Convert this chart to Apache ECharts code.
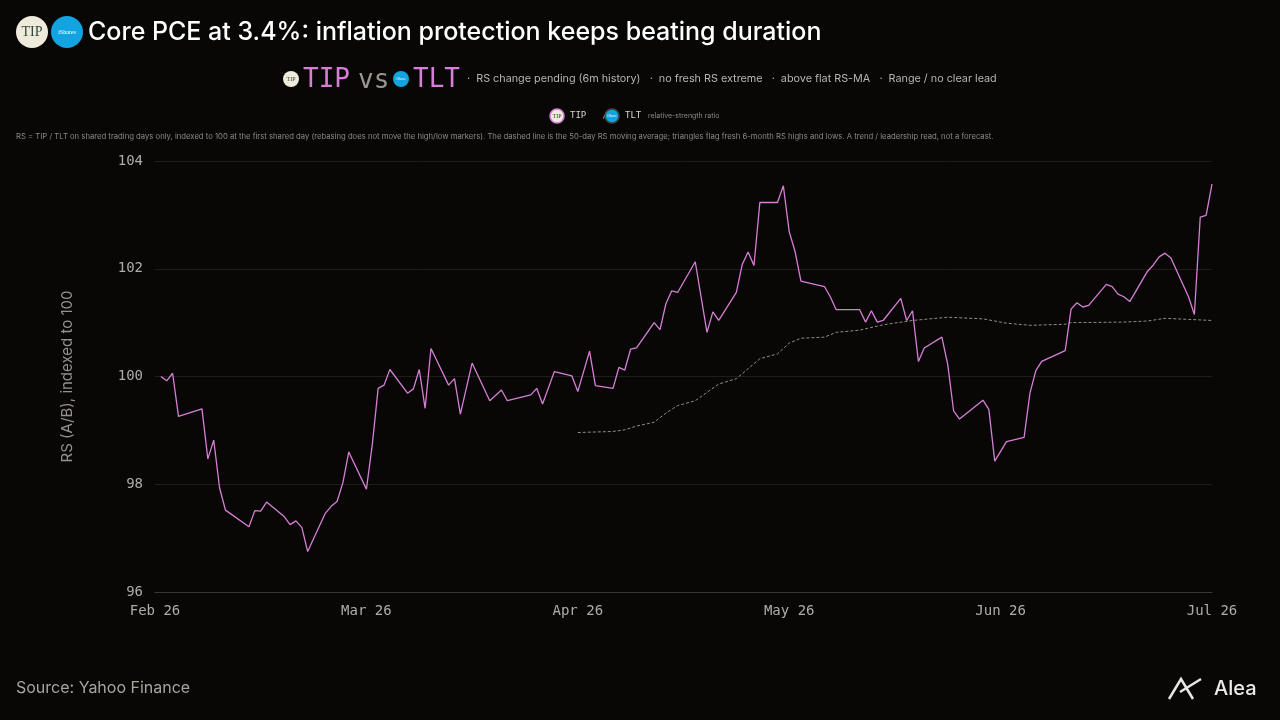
<!DOCTYPE html>
<html>
<head>
<meta charset="utf-8">
<script src="https://cdn.jsdelivr.net/npm/echarts@6/dist/echarts.min.js"></script>
<style>
  html, body { margin: 0; padding: 0; background: #080706; }
  #chart { width: 1280px; height: 720px; }
</style>
</head>
<body>
<div id="chart"></div>
<script>
// month labels, each month spans 36 slots on the x axis
const monthLabels = ["Feb 26", "Mar 26", "Apr 26", "May 26", "Jun 26", "Jul 26"];
const slotsPerMonth = 36;

// RS ratio (TIP / TLT), slot index + value
const rsIdx = [1,2,3,4,8,9,10,11,12,16,17,18,19,22,23,24,25,26,29,30,31,32,33,36,37,38,39,40,43,44,45,46,47,50,51,52,54,57,59,60,64,65,66,68,71,72,74,75,78,79,80,81,82,85,86,87,88,89,92,94,95,96,99,100,101,102,103,106,107,108,109,110,114,115,116,120,121,122,123,124,127,128,129,130,131,134,135,136,137,141,142,143,145,148,149,150,151,155,156,157,158,159,162,163,164,165,166,169,170,171,172,173,176,177,178,179,180];
const rsVal = [100.0,99.92,100.06,99.26,99.40,98.47,98.82,97.93,97.52,97.21,97.51,97.50,97.67,97.40,97.25,97.32,97.20,96.75,97.46,97.59,97.68,98.03,98.60,97.91,98.73,99.78,99.84,100.13,99.69,99.77,100.13,99.41,100.52,99.84,99.96,99.30,100.25,99.55,99.75,99.55,99.66,99.78,99.49,100.09,100.01,99.72,100.47,99.83,99.78,100.17,100.12,100.51,100.53,101.00,100.87,101.35,101.59,101.56,102.13,100.82,101.20,101.04,101.56,102.08,102.31,102.06,103.23,103.23,103.54,102.69,102.32,101.77,101.67,101.48,101.24,101.24,101.01,101.22,101.01,101.04,101.45,101.04,101.22,100.28,100.53,100.73,100.22,99.36,99.21,99.56,99.39,98.43,98.79,98.87,99.69,100.11,100.28,100.48,101.25,101.37,101.29,101.32,101.71,101.67,101.53,101.48,101.39,101.95,102.07,102.22,102.29,102.20,101.48,101.15,102.96,102.99,103.57];

// 50-day RS moving average
const maIdx = [72,78,80,82,85,87,89,92,96,99,103,106,108,110,114,116,120,124,129,135,141,145,149,155,156,165,169,172,176,180];
const maVal = [98.96,98.98,99.01,99.08,99.15,99.32,99.46,99.55,99.86,99.96,100.33,100.42,100.62,100.71,100.73,100.82,100.86,100.96,101.04,101.10,101.07,100.99,100.95,100.97,101.0,101.01,101.03,101.08,101.06,101.04];

const yTicks = [96, 98, 100, 102, 104];

const slotCount = (monthLabels.length - 1) * slotsPerMonth + 1;
const categories = [];
for (let i = 0; i < slotCount; i++) categories.push(String(i));

const pink = "#d67fd6";
const mono = "'DejaVu Sans Mono', monospace";
const sans = "Inter, 'Noto Sans', sans-serif";

const chart = echarts.init(document.getElementById("chart"));

function logo(x, y, r, fill, txt, txtColor, stroke, scale) {
  return [
    { type: "circle", shape: { cx: x, cy: y, r: r },
      style: { fill: fill, stroke: stroke || null, lineWidth: stroke ? 1.5 : 0 } },
    { type: "text", x: x, y: y,
      style: { text: txt, fill: txtColor, font: Math.max(3, Math.round(r * scale)) + "px serif",
        align: "center", verticalAlign: "middle" } }
  ];
}

const graphics = [].concat(
  logo(32, 32, 16, "#efeadb", "TIP", "#2f4a3a", null, 0.85),
  logo(67, 32, 16, "#13a3e0", "iShares", "#fff", null, 0.4),
  [{ type: "text", x: 88, y: 32,
     style: { text: "Core PCE at 3.4%: inflation protection keeps beating duration", fill: "#ffffff",
       font: "500 25px " + sans, verticalAlign: "middle" } }],
  logo(291, 79, 8, "#efeadb", "TIP", "#2f4a3a", null, 0.8),
  [{ type: "text", x: 303, y: 80, style: { text: "TIP", fill: pink, font: "26px " + mono, verticalAlign: "middle" } },
   { type: "text", x: 358, y: 81, style: { text: "vs", fill: "#9a968f", font: "26px " + mono, verticalAlign: "middle" } }],
  logo(401, 79, 8, "#13a3e0", "iShares", "#fff", null, 0.35),
  [{ type: "text", x: 413, y: 80, style: { text: "TLT", fill: pink, font: "26px " + mono, verticalAlign: "middle" } },
   { type: "text", x: 467, y: 79,
     style: { text: "·  RS change pending (6m history)   ·  no fresh RS extreme   ·  above flat RS-MA   ·  Range / no clear lead",
       fill: "#b9b5ae", font: "10.8px " + sans, verticalAlign: "middle" } }],
  logo(557, 116, 7, "#efeadb", "TIP", "#2f4a3a", pink, 0.8),
  [{ type: "text", x: 570, y: 116, style: { text: "TIP   /", fill: "#d8d4cd", font: "9px " + mono, verticalAlign: "middle" } }],
  logo(612, 116, 7, "#13a3e0", "iShares", "#fff", "#444", 0.35),
  [{ type: "text", x: 625, y: 116, style: { text: "TLT", fill: "#d8d4cd", font: "9px " + mono, verticalAlign: "middle" } },
   { type: "text", x: 648, y: 116, style: { text: "relative-strength ratio", fill: "#8d8982", font: "7px " + sans, verticalAlign: "middle" } },
   { type: "text", x: 16, y: 137,
     style: { text: "RS = TIP / TLT on shared trading days only, indexed to 100 at the first shared day (rebasing does not move the high/low markers). The dashed line is the 50-day RS moving average; triangles flag fresh 6-month RS highs and lows. A trend / leadership read, not a forecast.",
       fill: "#8d8982", font: "7.7px " + sans, verticalAlign: "middle" } },
   { type: "text", x: 16, y: 688, style: { text: "Source: Yahoo Finance", fill: "#a9a59e", font: "16px " + sans, verticalAlign: "middle" } },
   { type: "polyline", shape: { points: [[1169, 699], [1181, 679], [1193, 699]] }, style: { stroke: "#e8e6e1", lineWidth: 2.5, fill: null } },
   { type: "line", shape: { x1: 1180, y1: 692, x2: 1201, y2: 679 }, style: { stroke: "#e8e6e1", lineWidth: 2.5 } },
   { type: "text", x: 1214, y: 689, style: { text: "Alea", fill: "#ecebe7", font: "500 20px " + sans, verticalAlign: "middle" } }]
);

const option = {
  backgroundColor: "#080706",
  animation: false,
  grid: { left: 155, right: 68, top: 161, bottom: 128 },
  graphic: graphics,
  xAxis: {
    type: "category",
    data: categories,
    boundaryGap: false,
    axisLine: { lineStyle: { color: "#3a3835" } },
    axisTick: { show: false },
    splitLine: { show: false },
    axisLabel: {
      color: "#b0aca5", fontFamily: mono, fontSize: 14, margin: 12,
      interval: (i) => i % slotsPerMonth === 0,
      formatter: (v) => monthLabels[Number(v) / slotsPerMonth] || ""
    }
  },
  yAxis: {
    type: "value",
    min: yTicks[0], max: yTicks[yTicks.length - 1], interval: 2,
    name: "RS (A/B), indexed to 100",
    nameLocation: "middle", nameGap: 80,
    nameTextStyle: { color: "#96928b", fontSize: 15, fontFamily: sans },
    axisLine: { show: false },
    axisTick: { show: false },
    axisLabel: { color: "#b0aca5", fontFamily: mono, fontSize: 14, margin: 12 },
    splitLine: { lineStyle: { color: "#1f1d1b", width: 1 } }
  },
  series: [
    {
      type: "line",
      data: maIdx.map((x, i) => [x, maVal[i]]),
      showSymbol: false,
      lineStyle: { color: "#8f8c87", width: 1, type: [3, 2] },
      z: 2
    },
    {
      type: "line",
      data: rsIdx.map((x, i) => [x, rsVal[i]]),
      showSymbol: false,
      lineStyle: { color: pink, width: 1.3 },
      z: 3
    }
  ]
};

chart.setOption(option);
</script>
</body>
</html>
